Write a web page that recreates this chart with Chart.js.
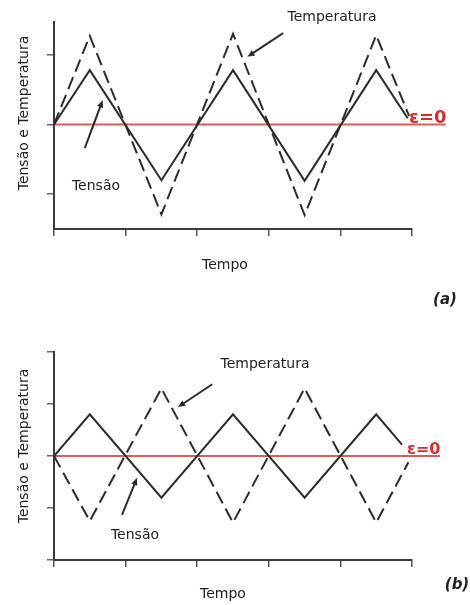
<!DOCTYPE html>
<html>
<head>
<meta charset="utf-8">
<script src="https://cdn.jsdelivr.net/npm/chart.js@4/dist/chart.umd.min.js"></script>
<style>
  html, body { margin: 0; padding: 0; background: #fff; }
  #wrap { position: relative; width: 470px; height: 605px; overflow: hidden; font-family: "DejaVu Sans", sans-serif; color: #222; }
  canvas { position: absolute; left: 0; }
  .lbl { position: absolute; white-space: nowrap; font-size: 14px; transform: translate(-50%, -50%); }
  .ytitle { transform: translate(-50%, -50%) rotate(-90deg); }
  .eps { position: absolute; color: #e02b2b; font-weight: bold; white-space: nowrap; transform: translateY(-50%); }
  .tag { position: absolute; font-weight: bold; font-style: italic; font-size: 15px; transform: translate(-50%, -50%); }
</style>
</head>
<body>
<div id="wrap">
  <canvas id="chartA" width="470" height="300" style="top:0"></canvas>
  <canvas id="chartB" width="470" height="305" style="top:300px"></canvas>

  <div class="lbl" style="left:332px;top:16px">Temperatura</div>
  <div class="lbl" style="left:96px;top:185px">Tensão</div>
  <div class="lbl" style="left:225px;top:264px">Tempo</div>
  <div class="lbl ytitle" style="left:23px;top:113px">Tensão e Temperatura</div>
  <div class="eps" style="left:409px;top:116px;font-size:18px">ε=0</div>
  <div class="tag" style="left:445px;top:299px">(a)</div>

  <div class="lbl" style="left:265px;top:363px">Temperatura</div>
  <div class="lbl" style="left:135px;top:534px">Tensão</div>
  <div class="lbl" style="left:223px;top:593px">Tempo</div>
  <div class="lbl ytitle" style="left:23px;top:446px">Tensão e Temperatura</div>
  <div class="eps" style="left:407px;top:448px;font-size:16px">ε=0</div>
  <div class="tag" style="left:457px;top:584px">(b)</div>
</div>
<script>
// (a) tensão e temperatura em fase
const tempoTensaoA = [0, 0.5, 1.5, 2.5, 3.5, 4.5, 4.94];
const tensaoA = [0, 0.78, -0.8, 0.78, -0.81, 0.78, 0.09];
const tempoTempA = [0, 0.5, 1.5, 2.5, 3.5, 4.5, 4.96];
const temperaturaA = [0, 1.27, -1.29, 1.3, -1.3, 1.28, 0.12];
const refA = [0, 5.47];

// (b) tensão e temperatura em oposição de fase
const tempoTensaoB = [0, 0.5, 1.5, 2.5, 3.5, 4.5, 4.86];
const tensaoB = [0, 0.8, -0.8, 0.8, -0.8, 0.8, 0.22];
const tempoTempB = [0, 0.5, 1.5, 2.5, 3.5, 4.5, 4.95];
const temperaturaB = [0, -1.25, 1.3, -1.28, 1.3, -1.28, -0.12];
const refB = [0, 5.39];

// setas das anotações, em unidades dos eixos [x, y]
const arrowsA = [
  { from: [3.2, 1.31], to: [2.7, 0.97] },
  { from: [0.43, -0.34], to: [0.68, 0.35] }
];
const arrowsB = [
  { from: [2.21, 1.38], to: [1.73, 0.94] },
  { from: [0.95, -1.13], to: [1.16, -0.42] }
];

function pts(xs, ys) {
  return xs.map((x, i) => ({ x, y: ys[i] }));
}

const arrowPlugin = {
  id: "arrows",
  afterDatasetsDraw(chart, args, opts) {
    const { ctx } = chart;
    const sx = chart.scales.x, sy = chart.scales.y;
    for (const a of opts.items || []) {
      const x0 = sx.getPixelForValue(a.from[0]), y0 = sy.getPixelForValue(a.from[1]);
      const x1 = sx.getPixelForValue(a.to[0]), y1 = sy.getPixelForValue(a.to[1]);
      const ang = Math.atan2(y1 - y0, x1 - x0);
      const head = 8;
      ctx.save();
      ctx.strokeStyle = "#2b2b2b";
      ctx.fillStyle = "#2b2b2b";
      ctx.lineWidth = 2;
      ctx.beginPath();
      ctx.moveTo(x0, y0);
      ctx.lineTo(x1 - Math.cos(ang) * head * 0.6, y1 - Math.sin(ang) * head * 0.6);
      ctx.stroke();
      ctx.beginPath();
      ctx.moveTo(x1, y1);
      ctx.lineTo(x1 - head * Math.cos(ang - 0.4), y1 - head * Math.sin(ang - 0.4));
      ctx.lineTo(x1 - head * Math.cos(ang + 0.4), y1 - head * Math.sin(ang + 0.4));
      ctx.closePath();
      ctx.fill();
      ctx.restore();
    }
  }
};

function makeChart(id, d, yMin, yMax, pad, xHeight, arrows) {
  const ctx = document.getElementById(id).getContext("2d");
  return new Chart(ctx, {
    type: "line",
    data: {
      datasets: [
        {
          label: "Tensão",
          data: d.tensao,
          borderColor: "#2b2b2b",
          borderWidth: 2,
          pointRadius: 0,
          tension: 0
        },
        {
          label: "Temperatura",
          data: d.temperatura,
          borderColor: "#2b2b2b",
          borderWidth: 2,
          borderDash: [13, 6],
          pointRadius: 0,
          tension: 0
        },
        {
          label: "ε=0",
          data: d.ref,
          borderColor: "#e05a5a",
          borderWidth: 2,
          pointRadius: 0,
          clip: false
        }
      ]
    },
    options: {
      responsive: false,
      animation: false,
      layout: { padding: pad },
      plugins: {
        legend: { display: false },
        tooltip: { enabled: false },
        arrows: { items: arrows }
      },
      scales: {
        x: {
          type: "linear",
          min: 0,
          max: 5,
          ticks: { display: false, stepSize: 1 },
          grid: { drawOnChartArea: false, drawTicks: true, tickLength: 7, color: "#555", lineWidth: 1.5 },
          border: { display: true, color: "#3a3a3a", width: 2 },
          afterFit(scale) { scale.height = xHeight; }
        },
        y: {
          min: yMin,
          max: yMax,
          ticks: { display: false, stepSize: 1, includeBounds: false },
          grid: { drawOnChartArea: false, drawTicks: true, tickLength: 7, color: "#666", lineWidth: 1.5 },
          border: { display: true, color: "#3a3a3a", width: 2 },
          afterFit(scale) { scale.width = 54; }
        }
      }
    },
    plugins: [arrowPlugin]
  });
}

makeChart("chartA", {
  tensao: pts(tempoTensaoA, tensaoA),
  temperatura: pts(tempoTempA, temperaturaA),
  ref: pts(refA, [0, 0])
}, -1.5, 1.47, { top: 22, right: 58, left: 0, bottom: 0 }, 71, arrowsA);

makeChart("chartB", {
  tensao: pts(tempoTensaoB, tensaoB),
  temperatura: pts(tempoTempB, temperaturaB),
  ref: pts(refB, [0, 0])
}, -2, 2, { top: 52, right: 58, left: 0, bottom: 0 }, 45, arrowsB);
</script>
</body>
</html>
